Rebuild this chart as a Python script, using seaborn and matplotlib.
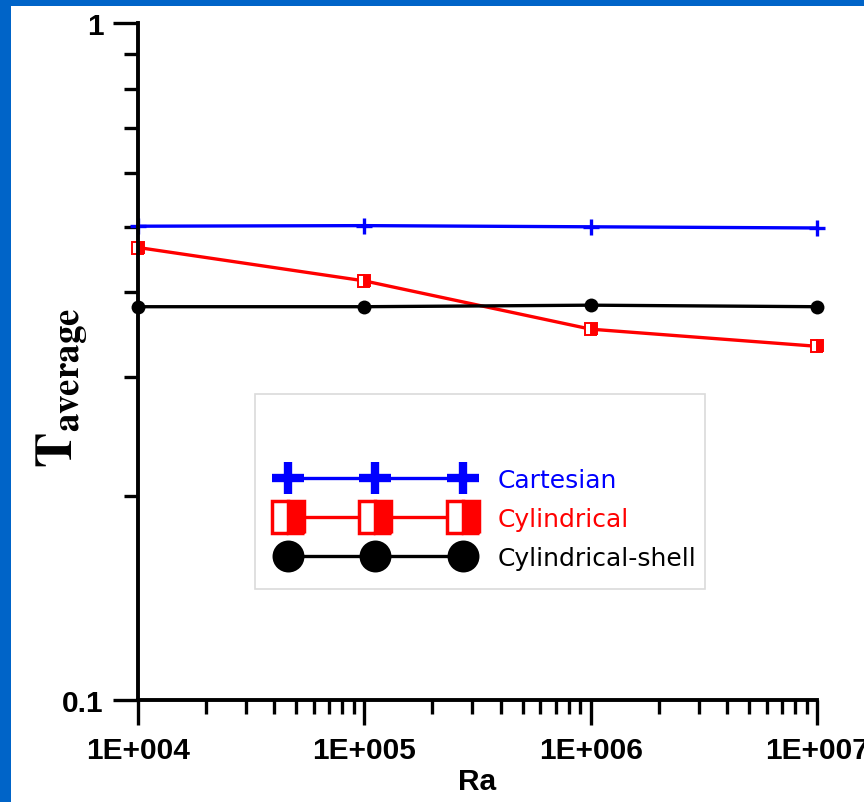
import numpy as np
import pandas as pd
import matplotlib
matplotlib.use("Agg")
import matplotlib.pyplot as plt
from matplotlib.patches import Rectangle
import seaborn as sns

# ---- data ----
ra = [1e4, 1e5, 1e6, 1e7]
cartesian = [0.501, 0.502, 0.500, 0.498]
cylindrical = [0.466, 0.416, 0.353, 0.333]
cyl_shell = [0.381, 0.381, 0.383, 0.381]
series_names = ["Cartesian", "Cylindrical", "Cylindrical-shell"]
x_ticks = [1e4, 1e5, 1e6, 1e7]
x_ticklabels = ["1E+004", "1E+005", "1E+006", "1E+007"]
y_ticks = [0.1, 1]
y_ticklabels = ["0.1", "1"]

sns.set_style("ticks")
plt.rcParams["font.family"] = ["Liberation Sans", "DejaVu Sans"]
plt.rcParams["mathtext.fontset"] = "stix"
plt.rcParams["text.color"] = "black"
plt.rcParams["axes.labelcolor"] = "black"
plt.rcParams["xtick.color"] = "black"
plt.rcParams["ytick.color"] = "black"

fig = plt.figure(figsize=(8.64, 8.03), dpi=100, facecolor="#0064C8")
# white slide panel
fig.patches.append(Rectangle((11 / 864, 0), 1 - 11 / 864, 1 - 7 / 803,
                             transform=fig.transFigure, facecolor="white",
                             edgecolor="none", zorder=-10))

ax = fig.add_axes([138 / 864, 1 - 701 / 803, (817 - 138) / 864, (701 - 24) / 803])
ax.set_facecolor("none")

sns.lineplot(x=ra, y=cartesian, ax=ax, color="#0000FF", linewidth=2.4,
             marker="+", markersize=12, markeredgewidth=2.4,
             markeredgecolor="#0000FF", label=series_names[0], clip_on=False)
sns.lineplot(x=ra, y=cylindrical, ax=ax, color="#FF0000", linewidth=2.4,
             marker="s", markersize=8, markeredgewidth=1.4,
             markeredgecolor="#FF0000", markerfacecolor="#FF0000",
             markerfacecoloralt="white", fillstyle="right",
             label=series_names[1], clip_on=False)
sns.lineplot(x=ra, y=cyl_shell, ax=ax, color="black", linewidth=2.4,
             marker="o", markersize=10, markeredgewidth=0,
             markeredgecolor="black", label=series_names[2], clip_on=False)

ax.set_xscale("log")
ax.set_yscale("log")
ax.set_xlim(1e4, 1e7)
ax.set_ylim(0.1, 1)

ax.set_xticks(x_ticks)
ax.set_xticklabels(x_ticklabels)
ax.set_yticks(y_ticks)
ax.set_yticklabels(y_ticklabels)
ax.xaxis.set_minor_locator(matplotlib.ticker.LogLocator(base=10, subs=np.arange(2, 10)))
ax.yaxis.set_minor_locator(matplotlib.ticker.LogLocator(base=10, subs=np.arange(2, 10)))
ax.xaxis.set_minor_formatter(matplotlib.ticker.NullFormatter())
ax.yaxis.set_minor_formatter(matplotlib.ticker.NullFormatter())

for s in ["top", "right"]:
    ax.spines[s].set_visible(False)
for s in ["left", "bottom"]:
    ax.spines[s].set_linewidth(2.8)
    ax.spines[s].set_color("black")

ax.tick_params(which="major", length=18, width=2.4, direction="out",
               color="black", labelcolor="black")
ax.tick_params(which="minor", length=10, width=2.4, direction="out", color="black")
ax.tick_params(axis="x", which="major", pad=8)
ax.tick_params(axis="y", which="major", pad=7)
for lab in ax.get_xticklabels() + ax.get_yticklabels():
    lab.set_fontsize(21.5)
    lab.set_fontweight("bold")
    lab.set_color("black")

ax.set_xlabel("Ra", fontsize=21.5, fontweight="bold", labelpad=2, color="black")
ax.set_ylabel("")
fig.text(62 / 864, 1 - 388 / 803, r"$\mathbf{T}_{\mathbf{average}}$",
         rotation=90, ha="center", va="center", fontsize=38, color="black")

# legend frame
fig.patches.append(Rectangle((255 / 864, 1 - 590 / 803), 450 / 864, 195 / 803,
                             transform=fig.transFigure, facecolor="none",
                             edgecolor="#DADADA", linewidth=1.2, zorder=5))

leg = ax.legend(loc="center left", bbox_to_anchor=(280 / 864, 1 - 520 / 803),
                bbox_transform=fig.transFigure, frameon=False, numpoints=3,
                handlelength=7.6, handletextpad=1.1,
                labelspacing=0.6, borderpad=0, borderaxespad=0,
                prop={"family": "DejaVu Sans", "size": 18})
colors = ["#0000FF", "#FF0000", "black"]
for line, txt, c in zip(leg.get_lines(), leg.get_texts(), colors):
    line.set_markersize(23)
    line.set_linewidth(2.4)
    txt.set_color(c)
leg.get_lines()[0].set_markeredgewidth(6)
leg.get_lines()[1].set_markeredgewidth(2.5)

fig.savefig("out.png", dpi=100, facecolor=fig.get_facecolor())
